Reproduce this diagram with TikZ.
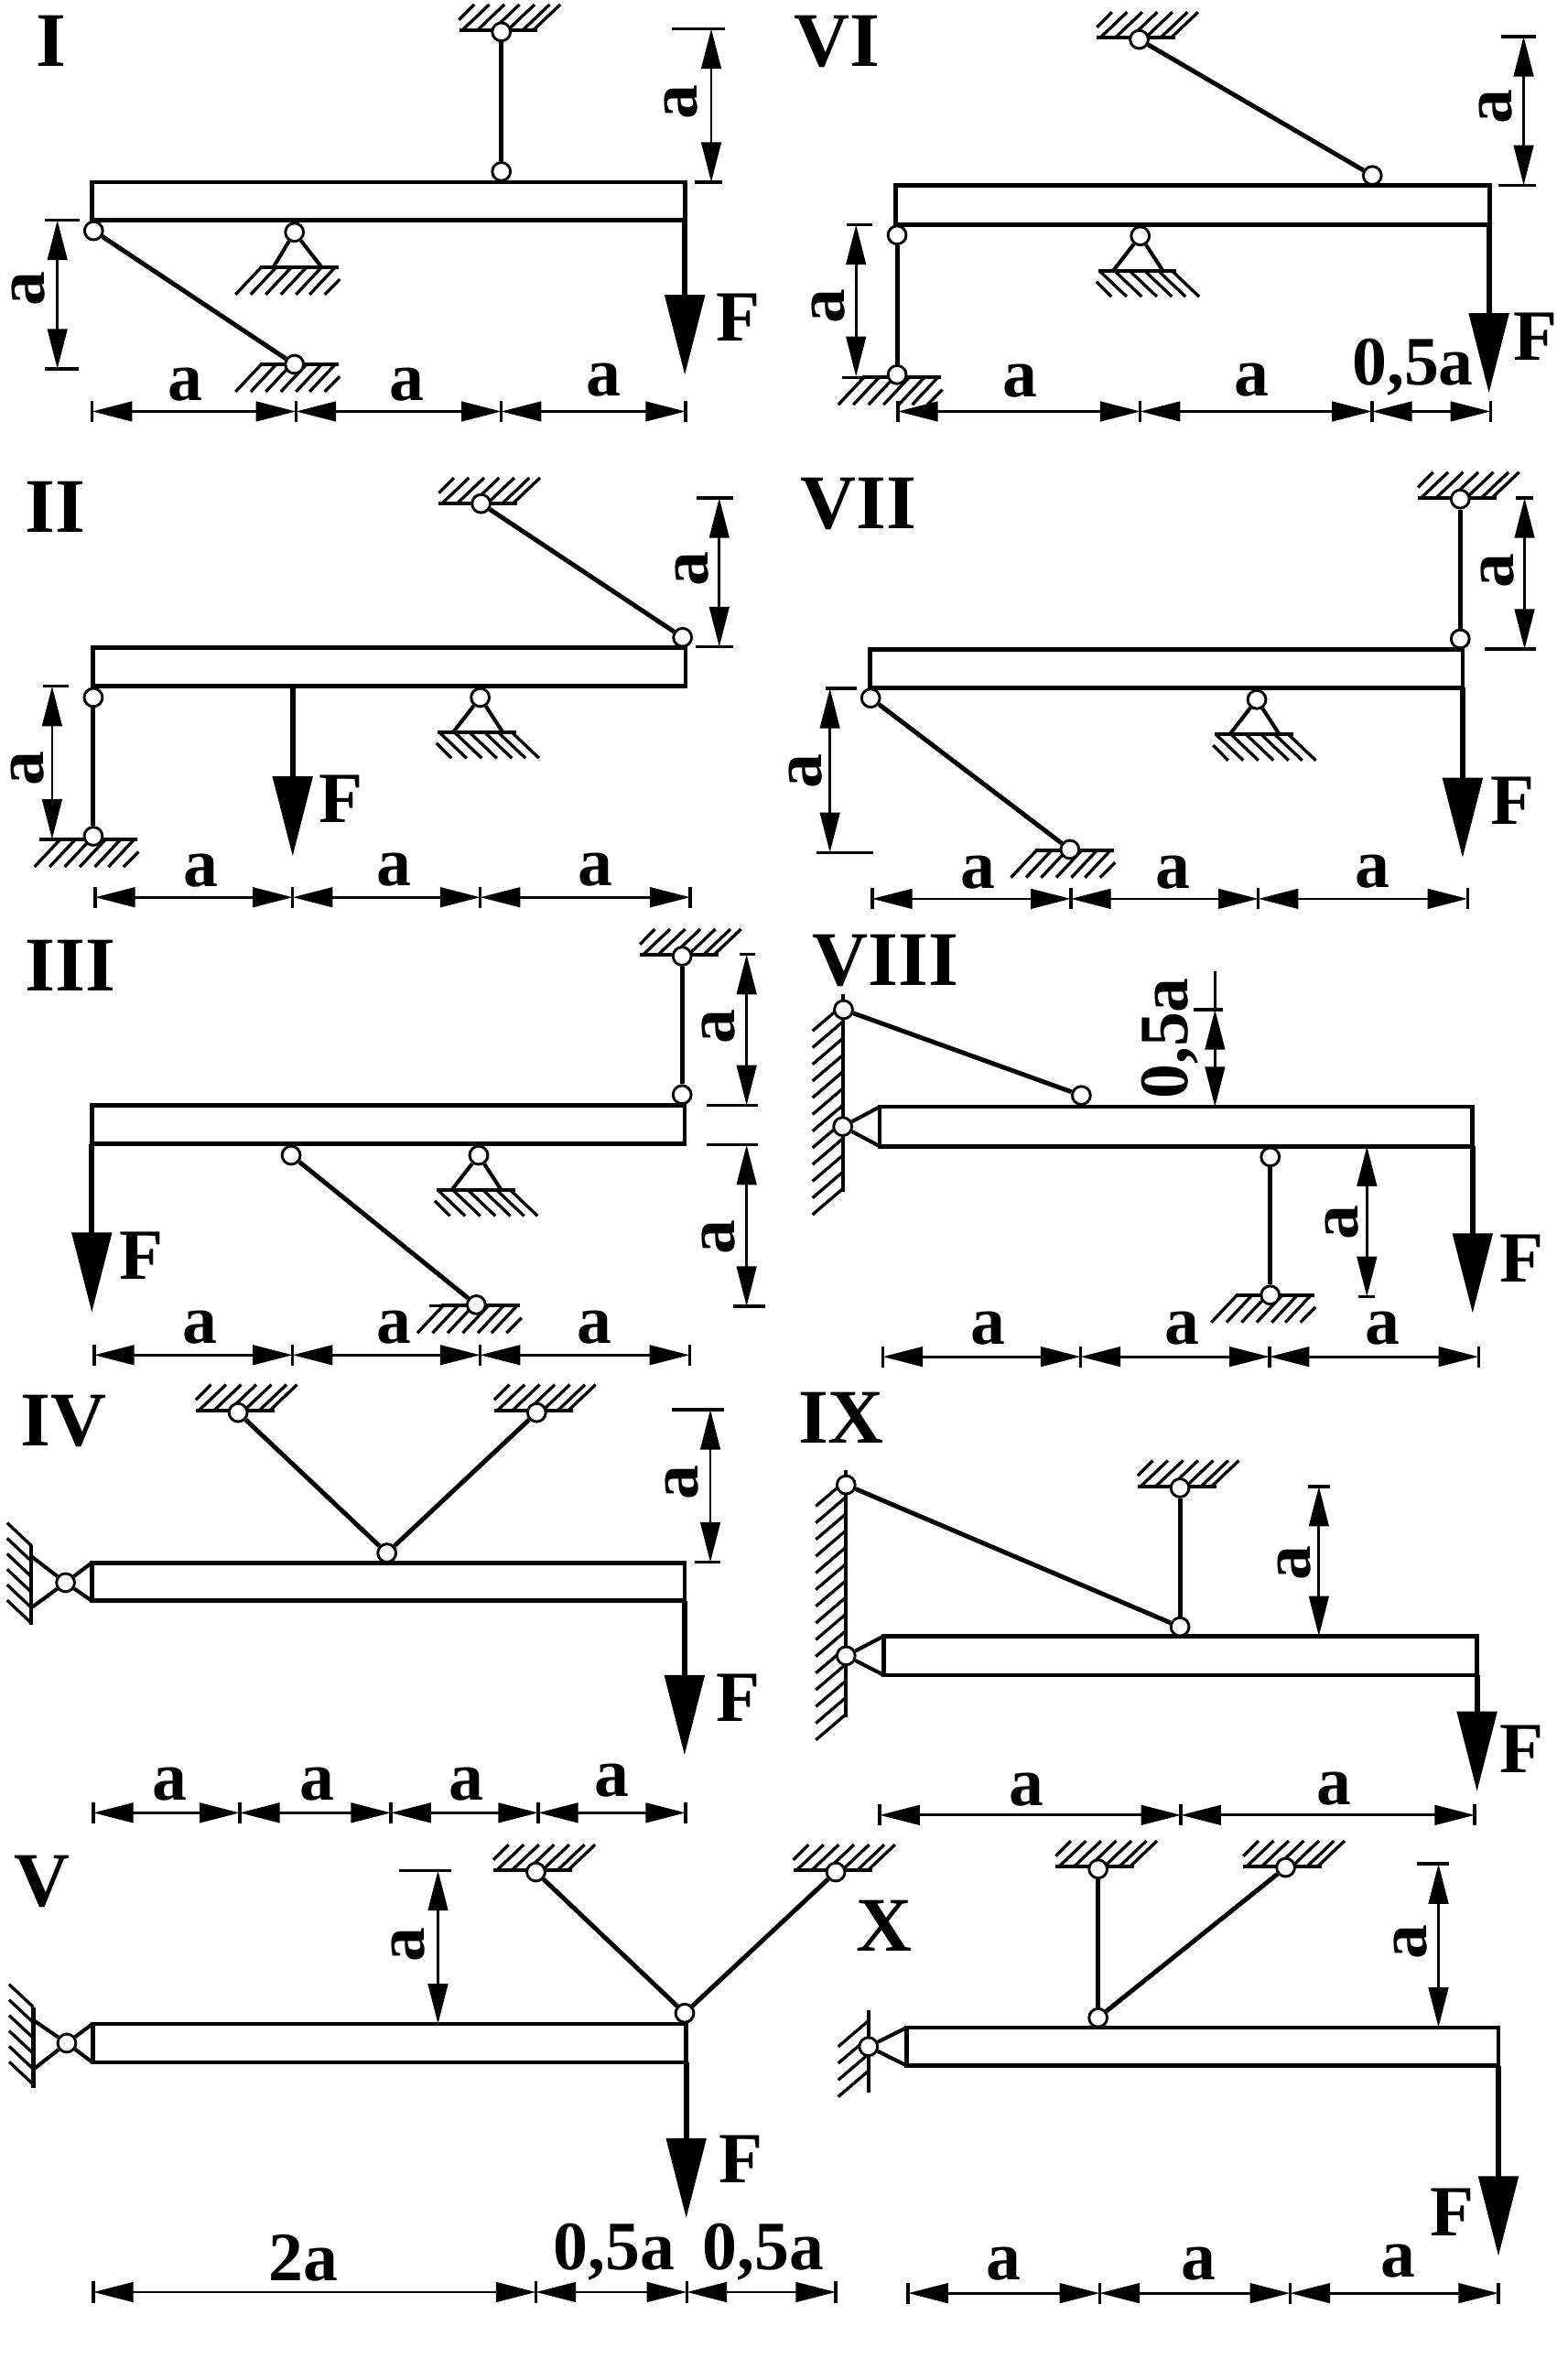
\documentclass[tikz,border=0pt]{standalone}
\usepackage{fontspec}
\setmainfont{Liberation Serif}
\usetikzlibrary{arrows.meta}
\tikzset{
  leftpanel/.style={x=0.0199cm},
  rightpanel/.style={x=0.0199cm,xshift=0.0513cm},
  beamline/.style={line width=1.6pt},
  rod/.style={line width=1.7pt},
  support/.style={line width=1.4pt},
  hatchline/.style={line width=1.15pt},
  hinge/.style={circle,draw,fill=white,line width=1pt,minimum size=6.8pt,inner sep=0pt},
  force/.style={line width=2pt,-{Triangle[length=30pt,width=14.7pt]}},
  dimline/.style={line width=.95pt,{Triangle[length=15pt,width=7.4pt]}-{Triangle[length=15pt,width=7.4pt]}},
  dimend/.style={line width=.95pt},
  tick/.style={line width=1.2pt},
  numlabel/.style={font=\fontsize{29}{29}\selectfont\bfseries,inner sep=0pt},
  forcelabel/.style={font=\fontsize{27}{27}\selectfont\bfseries,inner sep=0pt},
  dimtext/.style={font=\fontsize{26}{26}\selectfont\bfseries,inner sep=0pt},
  dimside/.style={dimtext,rotate=90}
}
\newcommand{\beam}[4]{\draw[beamline] (#1,#2) rectangle (#3,#4);}
\newcommand{\gndtop}[2]{
  \draw[support] (#1-28,#2) --(#1+24,#2);
  \draw[hatchline] (#1-28,#2-7) --(#1-18,#2-17);
  \foreach \d in {-8,2,12,22,32,39}
    \draw[hatchline] (#1+\d-18,#2) --(#1+\d,#2-17);
}
\newcommand{\gndmir}[2]{
  \draw[support] (#1-28,#2) --(#1+24,#2);
  \draw[hatchline] (#1-29,#2+7) --(#1-19,#2+17);
  \foreach \d in {-9,1,11,21,30,39}
    \draw[hatchline] (#1+\d-18,#2) --(#1+\d,#2+17);
}
\newcommand{\gndbot}[2]{
  \draw[support] (#1-23,#2) --(#1+29,#2);
  \foreach \d in {-39,-29,-19,-9,1,10}
    \draw[hatchline] (#1+\d,#2+18) --(#1+\d+17,#2);
  \draw[hatchline] (#1+20,#2+18) --(#1+30,#2+8);
}
\newcommand{\pin}[3]{
  \gndbot{#2}{#3+23}
  \node[hinge] (#1) at (#2,#3) {};
  \draw[support] (#1) --(#2-14,#3+23);
  \draw[support] (#1) --(#2+18,#3+23);
}
\newcommand{\pinm}[3]{
  \gndmir{#2}{#3+23}
  \node[hinge] (#1) at (#2,#3) {};
  \draw[support] (#1) --(#2-18,#3+23);
  \draw[support] (#1) --(#2+15,#3+23);
}
\newcommand{\wallstrip}[3]{
  \draw[support] (#1,#2-7) --(#1,#2+11*#3+2);
  \foreach \i in {0,...,#3}
    \draw[hatchline] (#1,#2+11*\i) --(#1-20,#2+11*\i+17);
}
\newcommand{\wallshort}[3]{
  \draw[support] (#1,#2) --(#1,#3);
  \foreach \i in {0,...,5}
    \draw[hatchline] (#1,#2+10.2*\i) --(#1-16,#2+10.2*\i-15);
}
\newcommand{\hdim}[3]{
  \draw[dimline] (#2,#1) --(#3,#1);
  \draw[tick] (#2,#1-7) --(#2,#1+7);
  \draw[tick] (#3,#1-7) --(#3,#1+7);
}
\newcommand{\vdim}[3]{\draw[dimline] (#1,#2) --(#1,#3);}
\newcommand{\bartick}[3]{\draw[tick] (#1,#3) --(#2,#3);}
\begin{document}
\begin{tikzpicture}[x=0.02cm,y=-0.02cm]
  \useasboundingbox (0,0) rectangle (1025,1567.6);

  \begin{scope}[leftpanel]
  \node[numlabel] (numI) at (34,27) {I};
  \beam{61}{120}{453.5}{145}
  \gndtop{332}{20}
  \gndbot{195}{240}
  \node[hinge] (Ia) at (332,21) {};
  \node[hinge] (Ib) at (332,113) {};
  \node[hinge] (Ic) at (62,152) {};
  \node[hinge] (Id) at (195,240) {};
  \pin{Ie}{195}{153}
  \draw[rod] (Ia) --(Ib);
  \draw[rod] (Ic) --(Id);
  \draw[force] (453.5,145) --(453.5,247);
  \node[forcelabel] (FI) at (489,209) {F};
  \vdim{471}{19}{120}
  \bartick{445}{480}{19}
  \bartick{460}{478}{120}
  \node[dimside] (aIr) at (451,67) {a};
  \vdim{38}{145}{243}
  \bartick{30}{53}{145}
  \bartick{30}{52}{243}
  \node[dimside] (aIl) at (19,190) {a};
  \hdim{271}{61}{196}
  \hdim{271}{196}{332}
  \hdim{271}{332}{454}
  \node[dimtext] (aIa) at (123,253.5) {a};
  \node[dimtext] (aIb) at (269.5,253) {a};
  \node[dimtext] (aIc) at (400,250) {a};

  \node[numlabel] (numII) at (36.5,334) {II};
  \beam{61.4}{426.6}{454}{452}
  \gndtop{318.6}{331.7}
  \gndbot{61.8}{553}
  \bartick{26}{40}{553}
  \node[hinge] (IIa) at (318.6,331.7) {};
  \node[hinge] (IIb) at (452,419.8) {};
  \node[hinge] (IIc) at (61.8,459.4) {};
  \node[hinge] (IId) at (61.8,550.8) {};
  \pinm{IIe}{318}{459.4}
  \draw[rod] (IIa) --(IIb);
  \draw[rod] (IIc) --(IId);
  \draw[force] (193.8,452) --(193.8,564);
  \node[forcelabel] (FII) at (226,526) {F};
  \vdim{476.3}{328}{426}
  \bartick{461.5}{485.5}{328}
  \bartick{460.6}{485.5}{426}
  \node[dimside] (aIIr) at (458,375) {a};
  \vdim{34.5}{452}{552.8}
  \bartick{28.6}{45.3}{452}
  \node[dimside] (aIIl) at (18,506) {a};
  \hdim{591}{63}{193.8}
  \hdim{591}{193.8}{318}
  \hdim{591}{318}{457}
  \node[dimtext] (aIIa) at (133,573.4) {a};
  \node[dimtext] (aIIb) at (261,573) {a};
  \node[dimtext] (aIIc) at (394,573) {a};

  \node[numlabel] (numIII) at (46.7,635.7) {III};
  \beam{60.8}{728}{453.3}{753.5}
  \gndtop{451.7}{629}
  \gndbot{315.4}{860}
  \bartick{284}{292}{860}
  \node[hinge] (IIIa) at (451.7,629.8) {};
  \node[hinge] (IIIb) at (451.7,721) {};
  \node[hinge] (IIIc) at (192.8,760.9) {};
  \node[hinge] (IIId) at (315.4,859.4) {};
  \pinm{IIIe}{317}{760.9}
  \draw[rod] (IIIa) --(IIIb);
  \draw[rod] (IIIc) --(IIId);
  \draw[force] (60.8,753.5) --(60.8,864.4);
  \node[forcelabel] (FIII) at (93.6,827) {F};
  \vdim{494.4}{628.6}{728}
  \bartick{489.5}{500}{628.6}
  \bartick{468}{502}{728}
  \node[dimside] (aIIIr) at (476,676.5) {a};
  \vdim{494.4}{754}{860.4}
  \bartick{468}{502}{754}
  \bartick{485.5}{506.5}{860.4}
  \node[dimside] (aIIIs) at (476,815) {a};
  \hdim{892.5}{62.4}{193.8}
  \hdim{892.5}{193.8}{318}
  \hdim{892.5}{318}{456.6}
  \node[dimtext] (aIIIa) at (132.4,874.5) {a};
  \node[dimtext] (aIIIb) at (261,874.5) {a};
  \node[dimtext] (aIIIc) at (393.5,874.5) {a};

  \node[numlabel] (numIV) at (42,936) {IV};
  \beam{60.8}{1029.3}{453.3}{1054.4}
  \wallshort{20.7}{1018}{1070}
  \gndtop{157.7}{929}
  \gndtop{355.4}{929}
  \node[hinge] (IVw) at (43.4,1042.4) {};
  \node[hinge] (IVa) at (157.7,930.4) {};
  \node[hinge] (IVb) at (355.4,930.4) {};
  \node[hinge] (IVc) at (256.2,1022.9) {};
  \draw[support] (IVw) --(20.7,1025);
  \draw[support] (IVw) --(20.7,1059);
  \draw[support] (IVw) --(60.8,1029.3);
  \draw[support] (IVw) --(60.8,1054.4);
  \draw[rod] (IVa) --(IVc);
  \draw[rod] (IVb) --(IVc);
  \draw[force] (453.3,1054.4) --(453.3,1156);
  \node[forcelabel] (FIV) at (488.8,1118.4) {F};
  \vdim{470.4}{928.4}{1029}
  \bartick{445}{479.6}{928.4}
  \bartick{460}{477}{1029}
  \node[dimside] (aIVr) at (451.7,976.5) {a};
  \hdim{1194}{61.8}{158.7}
  \hdim{1194}{158.7}{258.9}
  \hdim{1194}{258.9}{356.4}
  \hdim{1194}{356.4}{454}
  \node[dimtext] (aIVa) at (112.7,1175) {a};
  \node[dimtext] (aIVb) at (210,1175) {a};
  \node[dimtext] (aIVc) at (308.8,1175) {a};
  \node[dimtext] (aIVd) at (405,1173) {a};
  \end{scope}

  \node[numlabel] (numV) at (28,1239) {V};
  \beam{61}{1333}{452}{1358.4}
  \wallshort{22}{1322}{1375}
  \gndtop{353}{1232}
  \gndtop{550.5}{1232}
  \node[hinge] (Vw) at (44,1345.7) {};
  \node[hinge] (Va) at (353,1233) {};
  \node[hinge] (Vb) at (550.5,1233) {};
  \node[hinge] (Vc) at (451,1326) {};
  \draw[support] (Vw) --(22,1330.6);
  \draw[support] (Vw) --(22,1363);
  \draw[support] (Vw) --(61,1333);
  \draw[support] (Vw) --(61,1358.4);
  \draw[rod] (Va) --(Vc);
  \draw[rod] (Vb) --(Vc);
  \draw[force] (452,1358.4) --(452,1461);
  \node[forcelabel] (FV) at (488,1422) {F};
  \vdim{288.5}{1232}{1333}
  \bartick{263}{297}{1232}
  \node[dimside] (aVr) at (269,1281) {a};
  \hdim{1509.7}{61.5}{353}
  \hdim{1509.7}{353}{452.4}
  \hdim{1509.7}{452.4}{550.5}
  \node[dimtext] (aVa) at (200,1487) {2a};
  \node[dimtext] (aVb) at (404.5,1483) {0,5a};
  \node[dimtext] (aVc) at (503,1483) {0,5a};

  \begin{scope}[rightpanel]
  \node[numlabel] (numVI) at (551.5,27.5) {VI};
  \beam{590.6}{122}{984}{148}
  \gndtop{751.8}{25}
  \gndbot{591.5}{248.6}
  \bartick{555}{570}{248.6}
  \node[hinge] (VIa) at (751.8,26) {};
  \node[hinge] (VIb) at (906.2,115.6) {};
  \node[hinge] (VIc) at (591.5,154.8) {};
  \node[hinge] (VId) at (591.5,246.8) {};
  \pinm{VIe}{752.5}{155.4}
  \draw[rod] (VIa) --(VIb);
  \draw[rod] (VIc) --(VId);
  \draw[force] (983.4,148) --(983.4,259);
  \node[forcelabel] (FVI) at (1014,222) {F};
  \vdim{1006.4}{24}{122}
  \bartick{991.7}{1014.6}{24}
  \bartick{989.7}{1014.6}{122}
  \node[dimside] (aVIr) at (987.7,70.4) {a};
  \vdim{564.3}{148}{248}
  \bartick{558}{575}{148}
  \node[dimside] (aVIl) at (546,202) {a};
  \hdim{271}{592}{752.5}
  \hdim{271}{752.5}{906}
  \hdim{271}{906}{984.4}
  \node[dimtext] (aVIa) at (673,251) {a};
  \node[dimtext] (aVIb) at (826.4,250) {a};
  \node[dimtext] (aVIc) at (933,242) {0,5a};

  \node[numlabel] (numVII) at (565.9,331.8) {VII};
  \beam{573.5}{427.6}{966}{453}
  \gndtop{964.4}{328}
  \gndbot{705.9}{560}
  \node[hinge] (VIIa) at (964.4,328.7) {};
  \node[hinge] (VIIb) at (964.4,420.8) {};
  \node[hinge] (VIIc) at (574,459.8) {};
  \node[hinge] (VIId) at (705.9,559.5) {};
  \pinm{VIIe}{829.7}{460.8}
  \draw[rod] (VIIa) --(VIIb);
  \draw[rod] (VIIc) --(VIId);
  \draw[force] (966,453) --(966,565);
  \node[forcelabel] (FVII) at (998.9,527.3) {F};
  \vdim{1007}{328}{427.6}
  \bartick{1001.5}{1012.7}{328}
  \bartick{980.8}{1014.7}{427.6}
  \node[dimside] (aVIIr) at (989,376) {a};
  \vdim{547}{453.4}{561.5}
  \bartick{544}{565}{453.4}
  \bartick{538}{575.8}{561.5}
  \node[dimside] (aVIIl) at (530.8,508) {a};
  \hdim{592}{575}{706.5}
  \hdim{592}{706.5}{830.7}
  \hdim{592}{830.7}{969.3}
  \node[dimtext] (aVIIa) at (645,574.4) {a};
  \node[dimtext] (aVIIb) at (773.9,574.4) {a};
  \node[dimtext] (aVIIc) at (906.2,574) {a};

  \node[numlabel] (numVIII) at (584,633) {VIII};
  \beam{580}{729}{972.6}{755}
  \wallstrip{555.5}{662}{11}
  \gndbot{838.6}{853}
  \node[hinge] (VIIIw) at (555.5,742) {};
  \node[hinge] (VIIIa) at (556,665) {};
  \node[hinge] (VIIIb) at (713.5,721.5) {};
  \node[hinge] (VIIIc) at (838.6,762) {};
  \node[hinge] (VIIId) at (838.6,853) {};
  \draw[support] (VIIIw) --(580,729);
  \draw[support] (VIIIw) --(580,755);
  \draw[rod] (VIIIa) --(VIIIb);
  \draw[rod] (VIIIc) --(VIIId);
  \draw[force] (972.6,755) --(972.6,865);
  \node[forcelabel] (FVIII) at (1005,829) {F};
  \vdim{802}{665}{729}
  \draw[dimend] (802,640) --(802,665);
  \bartick{788}{807}{665}
  \node[dimside] (aVIIIr) at (772,684) {0,5a};
  \vdim{902.6}{755}{854}
  \bartick{897}{908}{854}
  \node[dimside] (aVIIIs) at (886,805) {a};
  \hdim{893.6}{582}{713}
  \hdim{893.6}{713}{838}
  \hdim{893.6}{838}{976.5}
  \node[dimtext] (aVIIIa) at (652,875) {a};
  \node[dimtext] (aVIIIb) at (780,875) {a};
  \node[dimtext] (aVIIIc) at (913,875) {a};

  \node[numlabel] (numIX) at (554.5,934) {IX};
  \beam{582.7}{1077.6}{975.5}{1103.3}
  \wallstrip{557.7}{975}{14}
  \gndtop{778.8}{979}
  \node[hinge] (IXw) at (557.7,1090.6) {};
  \node[hinge] (IXa) at (557.7,978) {};
  \node[hinge] (IXb) at (778.8,980) {};
  \node[hinge] (IXc) at (778.8,1071.5) {};
  \draw[support] (IXw) --(582.7,1077.6);
  \draw[support] (IXw) --(582.7,1103.3);
  \draw[rod] (IXa) --(IXc);
  \draw[rod] (IXb) --(IXc);
  \draw[force] (975.5,1103.3) --(975.5,1180);
  \node[forcelabel] (FIX) at (1005,1152) {F};
  \vdim{870.8}{979}{1077.6}
  \bartick{863.5}{878}{979}
  \node[dimside] (aIXr) at (854.5,1029.5) {a};
  \hdim{1195.5}{580}{779.5}
  \hdim{1195.5}{779.5}{974}
  \node[dimtext] (aIXa) at (677,1178.7) {a};
  \node[dimtext] (aIXb) at (880.6,1178) {a};

  \node[numlabel] (numX) at (583,1268.5) {X};
  \beam{598}{1335.4}{989.7}{1360.6}
  \wallstrip{572.5}{1331}{3}
  \draw[support] (572.5,1360) --(572.5,1378);
  \gndtop{724.6}{1229.5}
  \gndtop{848.8}{1229.5}
  \node[hinge] (Xw) at (572.5,1348) {};
  \node[hinge] (Xa) at (724.6,1231) {};
  \node[hinge] (Xb) at (848.8,1230) {};
  \node[hinge] (Xc) at (724.6,1329) {};
  \draw[support] (Xw) --(598,1335.4);
  \draw[support] (Xw) --(598,1360.6);
  \draw[rod] (Xa) --(Xc);
  \draw[rod] (Xb) --(Xc);
  \draw[force] (989.7,1360.6) --(989.7,1486);
  \node[forcelabel] (FX) at (959,1457) {F};
  \vdim{950}{1227.6}{1335.4}
  \bartick{936}{957}{1227.6}
  \node[dimside] (aXr) at (931.5,1279) {a};
  \hdim{1510.4}{598.8}{725.6}
  \hdim{1510.4}{725.6}{851.7}
  \hdim{1510.4}{851.7}{989.7}
  \node[dimtext] (aXa) at (662,1491) {a};
  \node[dimtext] (aXb) at (791,1491) {a};
  \node[dimtext] (aXc) at (923,1489) {a};
  \end{scope}
\end{tikzpicture}
\end{document}
